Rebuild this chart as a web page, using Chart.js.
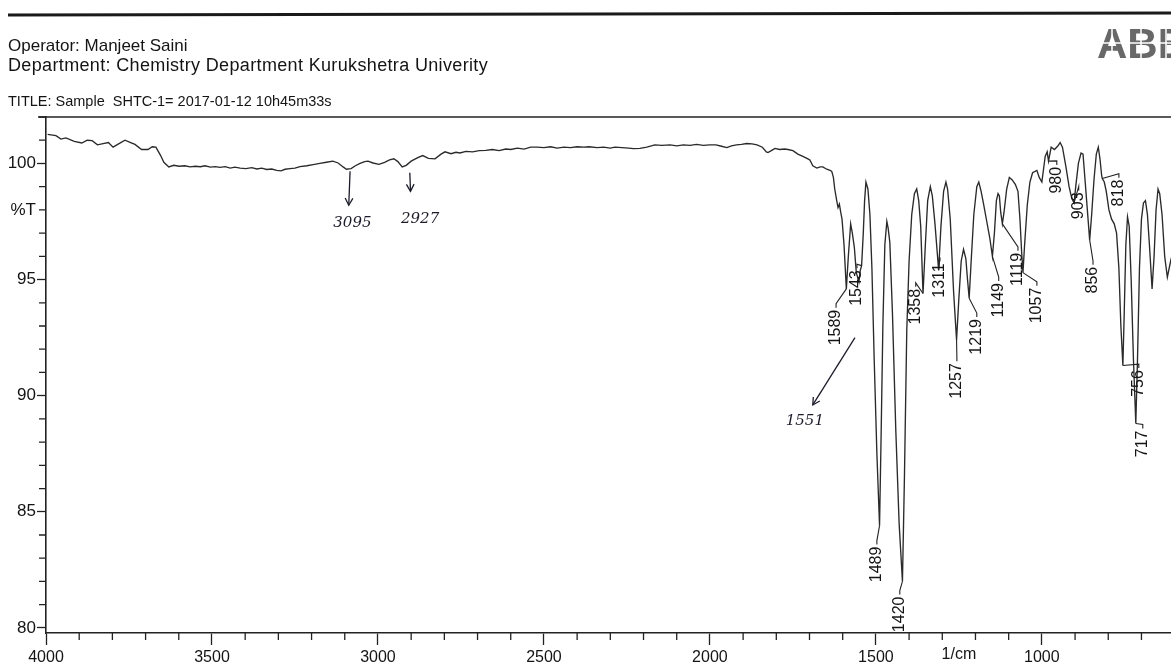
<!DOCTYPE html>
<html><head><meta charset="utf-8">
<script src="https://cdn.jsdelivr.net/npm/chart.js@4.4.1/dist/chart.umd.min.js"></script>
<style>html,body{margin:0;padding:0;background:#fff;overflow:hidden}canvas{display:block}</style>
</head><body>
<canvas id="c" width="1171" height="665"></canvas>
<script>
// ---------- DATA ----------
const wavenumbers = [
3995,3970,3955,3940,3915,3892,3876,3861,3845,3828,3812,3798,3780,3762,3745,3732,3712,3693,3680,3669,3655,3645,3630,3615,3599,3582,3566,3550,3535,3521,3505,3490,3476,3460,3445,3431,3415,3398,3380,3365,3350,3335,3320,3305,3292,3280,3265,3250,3235,3214,3195,3175,3155,3136,3120,3105,3095,3081,3068,3054,3040,3030,3015,2997,2980,2965,2952,2940,2927,2915,2900,2880,2865,2848,2828,2810,2798,2780,2765,2753,2735,2715,2695,2675,2655,2635,2615,2600,2580,2560,2540,2521,2500,2480,2460,2440,2420,2400,2380,2364,2340,2320,2300,2286,2265,2245,2230,2211,2190,2166,2145,2120,2100,2080,2060,2040,2020,2000,1982,1965,1949,1935,1920,1905,1889,1873,1858,1842,1830,1825,1815,1804,1790,1775,1765,1750,1735,1720,1705,1699,1690,1678,1668,1660,1648,1638,1633,1628,1624,1618,1614,1610,1606,1602,1596,1589,1583,1576,1571,1565,1559,1551,1547,1543,1538,1534,1530,1524,1518,1512,1505,1497,1489,1484,1479,1473,1467,1463,1458,1450,1440,1430,1420,1414,1407,1400,1392,1384,1377,1371,1365,1358,1351,1344,1336,1330,1322,1311,1304,1296,1289,1284,1276,1266,1257,1250,1243,1236,1229,1224,1219,1213,1205,1196,1190,1183,1175,1166,1157,1149,1143,1137,1132,1128,1124,1119,1114,1106,1098,1090,1080,1072,1066,1061,1057,1052,1044,1036,1028,1015,1008,1000,990,984,980,972,962,952,945,938,928,918,910,903,898,890,882,876,870,863,856,850,843,836,830,825,820,818,812,806,798,790,782,775,768,762,756,752,747,742,737,731,724,717,712,706,700,694,688,682,676,668,662,656,650,645,638,630,622,612,605
];
const transmittance = [
101.25,101.2,101.05,101.1,100.95,100.88,101.0,100.98,100.8,100.85,100.9,100.7,100.85,101.0,100.9,100.82,100.6,100.6,100.72,100.7,100.35,100.05,99.85,99.92,99.88,99.9,99.85,99.88,99.86,99.9,99.84,99.86,99.83,99.86,99.8,99.84,99.8,99.78,99.82,99.76,99.8,99.74,99.76,99.7,99.68,99.75,99.78,99.8,99.86,99.9,99.95,100.0,100.05,100.1,100.02,99.85,99.75,99.78,99.9,100.0,100.08,100.1,100.02,99.96,100.05,100.15,100.2,100.08,99.85,99.92,100.1,100.25,100.34,100.22,100.2,100.4,100.5,100.42,100.48,100.45,100.52,100.5,100.55,100.56,100.6,100.55,100.62,100.6,100.66,100.62,100.7,100.7,100.68,100.72,100.66,100.7,100.68,100.72,100.7,100.72,100.68,100.7,100.66,100.7,100.68,100.66,100.64,100.65,100.7,100.8,100.78,100.8,100.76,100.8,100.78,100.82,100.78,100.8,100.8,100.74,100.68,100.76,100.8,100.82,100.86,100.84,100.8,100.7,100.5,100.47,100.55,100.65,100.6,100.62,100.6,100.55,100.4,100.3,100.2,100.15,99.9,99.8,99.85,99.85,99.75,99.7,99.66,99.4,98.9,98.4,98.1,98.25,97.9,97.6,96.5,94.6,96.0,97.4,97.0,96.4,95.3,94.9,95.4,95.6,97.0,98.4,99.2,98.9,97.8,95.5,91.5,87.5,84.4,88.5,93.0,96.5,97.5,97.2,96.6,93.5,88.5,84.5,82.0,86.5,92.8,95.8,97.8,98.7,98.9,98.4,97.3,94.4,96.5,98.4,99.0,98.6,97.4,95.4,97.3,98.8,99.2,98.9,97.6,94.5,92.4,94.2,95.8,96.3,95.9,95.0,94.2,95.8,97.8,99.0,99.2,98.8,98.2,97.5,96.8,96.0,97.0,98.4,98.7,98.6,97.9,97.4,97.9,98.9,99.4,99.3,99.1,98.8,97.6,96.2,95.3,96.5,98.2,99.2,99.6,99.7,99.4,99.2,100.3,100.5,100.1,100.7,100.6,100.75,100.9,100.7,99.9,99.0,98.5,98.3,99.0,100.0,100.45,100.4,99.3,98.0,96.7,97.8,99.3,100.4,100.7,100.2,99.5,99.35,99.2,98.8,98.0,97.6,97.4,97.0,95.5,93.0,91.3,93.5,96.5,97.7,97.3,95.0,91.5,88.8,91.5,95.5,97.6,98.3,98.4,97.8,96.5,94.6,96.0,98.0,98.9,98.7,97.8,96.0,95.1,95.8,96.2
];
const xMajorTicks = [4000,3500,3000,2500,2000,1500,1000];
const yMajorTicks = [100,95,90,85,80];
const xUnitLabel = {value:1250, text:'1/cm'};
const yUnitLabel = {value:98, text:'%T'};
const peakLabels = ['1589','1543','1489','1420','1358','1311','1257','1219','1149','1119','1057','980','903','856','818','756','717'];
const handNotes = ['3095','2927','1551'];
const headerLines = ['Operator: Manjeet Saini','Department: Chemistry Department Kurukshetra Univerity'];
const titleLine = 'TITLE: Sample  SHTC-1= 2017-01-12 10h45m33s';

// ---------- LAYOUT (label anchors in data space) ----------
const labelAnchors = {
 '1589':[1620,93.7],'1543':[1557,95.4],'1489':[1497,83.5],'1420':[1428,81.35],
 '1358':[1380,94.6],'1311':[1307,95.7],'1257':[1256,91.4],'1219':[1196,93.3],
 '1149':[1130,94.85],'1119':[1072,96.15],'1057':[1015,94.65],'980':[955,99.85],
 '903':[889,98.75],'856':[846,95.55],'818':[768,99.3],'756':[708,91.1],'717':[696,88.5]
};
const handLayout = {
 '3095':{text:[3077,97.45], from:[3084,99.66], to:[3088,98.2]},
 '2927':{text:[2873,97.6], from:[2904,99.6], to:[2902,98.8]},
 '1551':{text:[1714,88.9], from:[1563,92.5], to:[1690,89.6]}
};

const FONT = '"Liberation Sans", Arial, sans-serif';
const INK = '#222';
const TXT = '#141414';
const points = wavenumbers.map((w,i)=>({x:w,y:transmittance[i]}));
const tAt = w => transmittance[wavenumbers.indexOf(w)];

const decor = {
  id:'decor',
  beforeDraw(ch){
    const c=ch.ctx; c.save(); c.fillStyle='#fff'; c.fillRect(0,0,ch.width,ch.height);
    c.strokeStyle='#1a1a1a'; c.lineWidth=3; c.beginPath(); c.moveTo(8,15); c.lineTo(1171,13); c.stroke();
    c.fillStyle=TXT; c.textBaseline='alphabetic';
    c.font='17px '+FONT; c.fillText(headerLines[0],8,51);
    c.font='18px '+FONT; c.letterSpacing='0.35px'; c.fillText(headerLines[1],8,71);
    c.letterSpacing='0px';
    c.font='14.5px '+FONT; c.fillText(titleLine,8,106);
    // logo
    c.font='bold 42px '+FONT; c.fillStyle='#686868'; c.fillText('ABB',1097,58);
    c.strokeStyle='#fff'; c.lineWidth=1.5; c.beginPath(); c.moveTo(1090,43); c.lineTo(1171,43);
    [1112,1141,1166].forEach(x=>{c.moveTo(x,26);c.lineTo(x,60);}); c.stroke();
    c.restore();
  },
  afterDraw(ch){
    const c=ch.ctx, xs=ch.scales.x, ys=ch.scales.y, a=ch.chartArea;
    c.save(); c.strokeStyle=INK; c.lineWidth=1.3;
    // top frame
    c.beginPath(); c.moveTo(a.left-8,a.top); c.lineTo(a.right,a.top); c.stroke();
    // minor ticks
    c.beginPath();
    xs.ticks.forEach(t=>{ if(!xMajorTicks.includes(t.value)){const p=xs.getPixelForValue(t.value); c.moveTo(p,a.bottom); c.lineTo(p,a.bottom+7);} });
    ys.ticks.forEach(t=>{ if(!yMajorTicks.includes(t.value)){const p=ys.getPixelForValue(t.value); c.moveTo(a.left,p); c.lineTo(a.left-7,p);} });
    c.stroke();
    // unit label on x
    c.fillStyle=TXT; c.font='16px '+FONT; c.textAlign='center'; c.textBaseline='top';
    c.fillText(xUnitLabel.text, xs.getPixelForValue(xUnitLabel.value), a.bottom+14);
    // peak labels
    c.font='16px '+FONT; c.lineWidth=1.1;
    peakLabels.forEach(lab=>{
      const w=+lab, px=xs.getPixelForValue(w), py=ys.getPixelForValue(tAt(w));
      const an=labelAnchors[lab], lx=xs.getPixelForValue(an[0]), ly=ys.getPixelForValue(an[1]);
      c.beginPath(); c.moveTo(px,py); c.lineTo(lx,ly-6); c.lineTo(lx,ly-2); c.stroke();
      c.save(); c.translate(lx,ly); c.rotate(-Math.PI/2); c.textAlign='right'; c.textBaseline='middle';
      c.fillText(lab,0,0); c.restore();
    });
    // handwritten notes
    c.strokeStyle='#1c1c2a'; c.fillStyle='#1c1c2a'; c.lineWidth=1.3;
    c.font='italic 15px "DejaVu Serif", serif'; c.textAlign='center'; c.textBaseline='middle';
    handNotes.forEach(n=>{
      const L=handLayout[n];
      const fx=xs.getPixelForValue(L.from[0]), fy=ys.getPixelForValue(L.from[1]);
      const tx=xs.getPixelForValue(L.to[0]), ty=ys.getPixelForValue(L.to[1]);
      c.beginPath(); c.moveTo(fx,fy); c.lineTo(tx,ty); c.stroke();
      const ang=Math.atan2(ty-fy,tx-fx), h=8;
      c.beginPath(); c.moveTo(tx-h*Math.cos(ang-0.5),ty-h*Math.sin(ang-0.5)); c.lineTo(tx,ty);
      c.lineTo(tx-h*Math.cos(ang+0.5),ty-h*Math.sin(ang+0.5)); c.stroke();
      c.fillText(n, xs.getPixelForValue(L.text[0]), ys.getPixelForValue(L.text[1]));
    });
    c.restore();
  }
};

const range=(a,b,s)=>{const r=[];for(let v=a;v<=b;v+=s)r.push(v);return r;};

new Chart(document.getElementById('c'),{
  type:'line',
  data:{datasets:[{data:points,borderColor:'#2a2a2a',borderWidth:1.35,pointRadius:0,tension:0,fill:false}]},
  options:{
    responsive:false, animation:false, devicePixelRatio:1,
    layout:{padding:{top:117,right:0,left:0,bottom:0}},
    plugins:{legend:{display:false},tooltip:{enabled:false}},
    scales:{
      x:{type:'linear',reverse:true,min:611,max:4000,
        afterBuildTicks:s=>{s.ticks=range(700,4000,100).map(v=>({value:v}));},
        afterFit:s=>{s.height=32;},
        grid:{drawOnChartArea:false,drawTicks:true,tickLength:12,tickWidth:1.3,
          tickColor:c=>(c.tick&&xMajorTicks.includes(c.tick.value))?INK:'rgba(0,0,0,0)'},
        border:{color:INK,width:1.6},
        ticks:{autoSkip:false,maxRotation:0,padding:3,color:TXT,font:{size:16,family:FONT},
          callback:v=>xMajorTicks.includes(v)?String(v):''}
      },
      y:{min:79.78,max:102.0,
        afterBuildTicks:s=>{s.ticks=range(80,102,1).map(v=>({value:v}));},
        afterFit:s=>{s.width=46;},
        grid:{drawOnChartArea:false,drawTicks:true,tickLength:9,tickWidth:1.3,
          tickColor:c=>(c.tick&&yMajorTicks.includes(c.tick.value))?INK:'rgba(0,0,0,0)'},
        border:{color:INK,width:1.6},
        ticks:{autoSkip:false,padding:1,color:TXT,font:{size:17,family:FONT},
          callback:v=>yMajorTicks.includes(v)?String(v):(v===yUnitLabel.value?yUnitLabel.text:'')}
      }
    }
  },
  plugins:[decor]
});
</script>
</body></html>
